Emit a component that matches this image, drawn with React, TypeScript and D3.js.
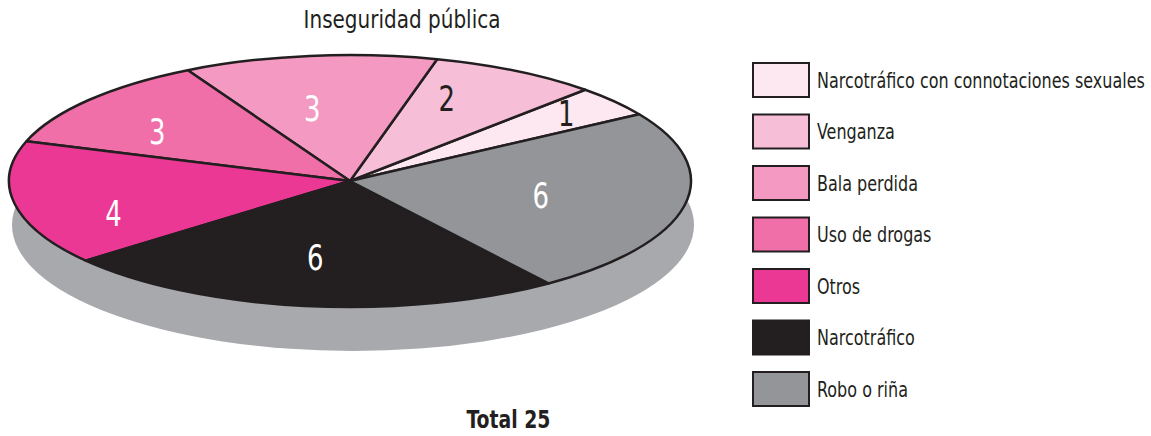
import React, { useEffect, useRef } from 'react';
import * as d3 from 'd3';

const categories = [
  'Narcotráfico con connotaciones sexuales',
  'Venganza',
  'Bala perdida',
  'Uso de drogas',
  'Otros',
  'Narcotráfico',
  'Robo o riña',
];
const values = [1, 2, 3, 3, 4, 6, 6];
const colors = ['#fde7f0', '#f7bfd7', '#f49ac2', '#f06fa8', '#ec3895', '#231f20', '#939598'];
const labelColors = ['#231f20', '#231f20', '#ffffff', '#ffffff', '#ffffff', '#ffffff', '#ffffff'];
// hand tuned placement of each number: fraction of radius, angle nudge (deg, ccw)
const labelRadius = [0.83, 0.72, 0.59, 0.69, 0.74, 0.61, 0.57];
const labelNudge = [1, 6, 4, 5, 10, -2, 0];
const title = 'Inseguridad pública';
const totalLabel = 'Total 25';

const FONT = '"DejaVu Sans Condensed", "Liberation Sans Narrow", Roboto, sans-serif';

// squeeze a text horizontally (no condensed Helvetica available)
const squeeze = (sel: any, x: number, y: number, k: number) => {
  sel.attr('x', 0).attr('y', 0).attr('transform', `translate(${x},${y}) scale(${k},1)`);
};

const App = () => {
  const ref = useRef<SVGSVGElement | null>(null);

  useEffect(() => {
    if (!ref.current) return;
    const svg = d3.select(ref.current);
    svg.selectAll('*').remove();

    const cx = 350, cy = 181, rx = 341, ry = 126, depth = 44;

    // thickness of the disc
    svg.append('ellipse')
      .attr('cx', cx + 3).attr('cy', cy + depth)
      .attr('rx', rx).attr('ry', ry)
      .attr('fill', '#a7a9ac');

    // start ~32deg above east, going counter-clockwise
    const start = (90 - 32) * Math.PI / 180;
    const pie = d3.pie<number>().sort(null).startAngle(start).endAngle(start - 2 * Math.PI);
    const arcs = pie(values);
    const arc = d3.arc<d3.PieArcDatum<number>>().innerRadius(0).outerRadius(rx);

    const g = svg.append('g')
      .attr('transform', `translate(${cx},${cy}) scale(1,${ry / rx})`);

    g.selectAll('path')
      .data(arcs)
      .enter()
      .append('path')
      .attr('d', d => arc(d) as string)
      .attr('fill', (d, i) => colors[i])
      .attr('stroke', '#231f20')
      .attr('stroke-width', 2.5)
      .attr('stroke-linejoin', 'round')
      .attr('vector-effect', 'non-scaling-stroke');

    // numbers on the slices
    svg.selectAll('.lbl')
      .data(arcs)
      .enter()
      .append('text')
      .attr('class', 'lbl')
      .attr('text-anchor', 'middle')
      .attr('dy', '0.36em')
      .attr('font-family', FONT)
      .attr('font-size', 36)
      .attr('fill', (d, i) => labelColors[i])
      .text(d => d.data)
      .each(function (d, i) {
        const a = (d.startAngle + d.endAngle) / 2 - labelNudge[i] * Math.PI / 180;
        const x = cx + Math.sin(a) * rx * labelRadius[i];
        const y = cy - Math.cos(a) * ry * labelRadius[i];
        squeeze(d3.select(this), x, y, 0.8);
      });

    const t = svg.append('text')
      .attr('text-anchor', 'middle')
      .attr('font-family', FONT)
      .attr('font-size', 24)
      .attr('fill', '#231f20')
      .text(title);
    squeeze(t, 402, 28, 197 / (t.node() as SVGTextElement).getComputedTextLength());

    const tot = svg.append('text')
      .attr('text-anchor', 'middle')
      .attr('font-family', FONT)
      .attr('font-weight', 'bold')
      .attr('font-size', 25)
      .attr('fill', '#231f20')
      .text(totalLabel);
    squeeze(tot, 508.5, 428, 84 / (tot.node() as SVGTextElement).getComputedTextLength());

    // legend
    const ly = d3.scaleLinear().domain([0, categories.length - 1]).range([62, 371]);
    const legend = svg.append('g')
      .selectAll('g')
      .data(categories)
      .enter()
      .append('g')
      .attr('transform', (d, i) => `translate(752,${ly(i)})`);

    legend.append('rect')
      .attr('x', 1).attr('y', 1)
      .attr('width', 56).attr('height', 34)
      .attr('fill', (d, i) => colors[i])
      .attr('stroke', '#231f20')
      .attr('stroke-width', 2);

    const lt = legend.append('text')
      .attr('dy', '0.36em')
      .attr('font-family', FONT)
      .attr('font-size', 21)
      .attr('fill', '#231f20')
      .text(d => d);
    const widest = d3.max(lt.nodes() as SVGTextElement[], n => n.getComputedTextLength()) || 1;
    squeeze(lt, 65, 18, 328 / widest);
  }, []);

  return (
    <svg
      ref={ref}
      width={1151}
      height={436}
      style={{ position: 'absolute', left: 0, top: 0, background: '#fff' }}
    />
  );
};

export default App;
